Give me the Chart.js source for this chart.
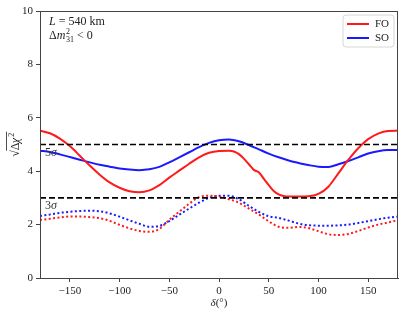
<!DOCTYPE html>
<html lang="en">
<head>
<meta charset="UTF-8">
<title>Sensitivity vs delta</title>
<script src="https://cdn.jsdelivr.net/npm/chart.js"></script>
<style>
  html, body { margin: 0; padding: 0; background: #fff; }
  .wrap { width: 409px; height: 315px; position: relative; }
</style>
</head>
<body>
<div class="wrap"><canvas id="chi"></canvas></div>
<script>
// delta grid (degrees) shared by the SO and dotted curves
const deltaGrid = [-180, -170, -160, -150, -140, -130, -120, -110, -100, -90, -80, -70, -60, -50, -40, -30, -20, -10,
  0, 10, 20, 30, 40, 50, 60, 70, 80, 90, 100, 110, 120, 130, 140, 150, 160, 170, 180];

const soSolid = [4.77, 4.72, 4.63, 4.53, 4.43, 4.33, 4.24, 4.17, 4.10, 4.06, 4.04, 4.07, 4.16, 4.33, 4.52, 4.71, 4.90, 5.06,
  5.16, 5.19, 5.12, 4.98, 4.82, 4.66, 4.52, 4.40, 4.31, 4.23, 4.17, 4.16, 4.26, 4.38, 4.52, 4.66, 4.75, 4.79, 4.79];

const foDotted = [2.17, 2.22, 2.27, 2.30, 2.30, 2.28, 2.24, 2.14, 1.99, 1.86, 1.76, 1.73, 1.84, 2.18, 2.48, 2.78, 3.03, 3.08,
  3.05, 2.95, 2.82, 2.60, 2.38, 2.12, 1.92, 1.88, 1.91, 1.87, 1.75, 1.64, 1.61, 1.65, 1.76, 1.89, 2.00, 2.08, 2.17];

const soDotted = [2.32, 2.38, 2.44, 2.48, 2.51, 2.52, 2.50, 2.42, 2.30, 2.16, 2.03, 1.92, 1.95, 2.13, 2.37, 2.60, 2.82, 3.00,
  3.08, 3.08, 2.95, 2.70, 2.48, 2.31, 2.25, 2.15, 2.04, 1.98, 1.96, 1.96, 1.97, 2.00, 2.06, 2.13, 2.20, 2.26, 2.30];

// FO solid has a kink near 40 deg, so it gets its own finer grid
const foDelta = [-180, -170, -160, -150, -140, -130, -120, -110, -100, -90, -80, -70, -60, -50, -40, -30, -20, -10,
  0, 10, 15, 20, 25, 30, 35, 40, 45, 50, 55, 60, 65, 70, 80, 90, 100, 110, 120, 130, 140, 150, 160, 170, 180];
const foSolid = [5.52, 5.42, 5.22, 4.94, 4.58, 4.21, 3.87, 3.58, 3.38, 3.25, 3.21, 3.28, 3.48, 3.76, 4.02, 4.28, 4.52, 4.69,
  4.76, 4.77, 4.74, 4.64, 4.47, 4.26, 4.05, 3.96, 3.72, 3.48, 3.26, 3.13, 3.07, 3.05, 3.05, 3.06, 3.15, 3.42, 3.92, 4.42,
  4.86, 5.20, 5.41, 5.51, 5.52];

const sigmaLevels = [3, 5];
const xRange = [-180, 180];
const xTicks = [-150, -100, -50, 0, 50, 100, 150];
const yTicks = [0, 2, 4, 6, 8, 10];

const RED = '#ff1a1a';
const BLUE = '#1a1aff';
const SERIF = '"Liberation Serif", "DejaVu Serif", serif';

function pts(xs, ys) {
  return xs.map((x, i) => ({ x: x, y: ys[i] }));
}

const datasets = [];
sigmaLevels.forEach(lvl => {
  datasets.push({
    data: xRange.map(x => ({ x: x, y: lvl })),
    borderColor: '#000', borderWidth: 1.6, borderDash: [6, 3], pointRadius: 0, tension: 0
  });
});
datasets.push({ label: 'FO', data: pts(foDelta, foSolid), borderColor: RED, borderWidth: 2 });
datasets.push({ label: 'SO', data: pts(deltaGrid, soSolid), borderColor: BLUE, borderWidth: 2 });
datasets.push({ data: pts(deltaGrid, foDotted), borderColor: RED, borderWidth: 2, borderDash: [2, 2.4] });
datasets.push({ data: pts(deltaGrid, soDotted), borderColor: BLUE, borderWidth: 2, borderDash: [2, 2.4] });

// texts, frame and legend drawn on top of the plot
const overlay = {
  id: 'overlay',
  afterDraw(chart) {
    const { ctx, chartArea: a, scales: { y } } = chart;
    ctx.save();
    ctx.strokeStyle = '#444';
    ctx.lineWidth = 1;
    ctx.strokeRect(a.left + 0.5, a.top + 0.5, a.right - a.left - 1, a.bottom - a.top);

    ctx.fillStyle = '#222';
    ctx.textBaseline = 'alphabetic';
    ctx.textAlign = 'left';

    // L = 540 km
    let x0 = a.left + 9;
    ctx.font = 'italic 12px ' + SERIF;
    ctx.fillText('L', x0, a.top + 14);
    x0 += ctx.measureText('L').width;
    ctx.font = '12px ' + SERIF;
    ctx.fillText(' = 540 km', x0, a.top + 14);

    // Δm²31 < 0
    x0 = a.left + 9;
    const yb = a.top + 28;
    ctx.font = '12px ' + SERIF;
    ctx.fillText('Δ', x0, yb);
    x0 += ctx.measureText('Δ').width;
    ctx.font = 'italic 12px ' + SERIF;
    ctx.fillText('m', x0, yb);
    x0 += ctx.measureText('m').width + 0.5;
    ctx.font = '8px ' + SERIF;
    ctx.fillText('2', x0, yb - 5);
    ctx.fillText('31', x0, yb + 3);
    x0 += ctx.measureText('31').width;
    ctx.font = '12px ' + SERIF;
    ctx.fillText(' < 0', x0, yb);

    // sigma labels
    ctx.fillStyle = '#333';
    sigmaLevels.forEach(lvl => {
      const py = y.getPixelForValue(lvl) + 11;
      ctx.font = '12px ' + SERIF;
      ctx.fillText(String(lvl), a.left + 5, py);
      const w = ctx.measureText(String(lvl)).width;
      ctx.font = 'italic 12px ' + SERIF;
      ctx.fillText('σ', a.left + 5 + w, py);
    });

    // legend box
    const lx = a.right - 55, ly = a.top + 4, lw = 51, lh = 32;
    ctx.beginPath();
    ctx.roundRect(lx, ly, lw, lh, 3);
    ctx.fillStyle = 'rgba(255,255,255,0.85)';
    ctx.fill();
    ctx.strokeStyle = '#d6d6d6';
    ctx.lineWidth = 1;
    ctx.stroke();
    [['FO', RED], ['SO', BLUE]].forEach((it, i) => {
      const cy = ly + 9 + i * 14;
      ctx.strokeStyle = it[1];
      ctx.lineWidth = 2;
      ctx.beginPath();
      ctx.moveTo(lx + 4, cy);
      ctx.lineTo(lx + 26, cy);
      ctx.stroke();
      ctx.fillStyle = '#222';
      ctx.font = '11px ' + SERIF;
      ctx.textBaseline = 'middle';
      ctx.fillText(it[0], lx + 32, cy + 0.5);
    });

    // y axis title: sqrt(Δχ²)
    ctx.save();
    ctx.translate(15, (a.top + a.bottom) / 2);
    ctx.rotate(-Math.PI / 2);
    ctx.textBaseline = 'alphabetic';
    ctx.fillStyle = '#222';
    ctx.font = '12px ' + SERIF;
    const wRad = ctx.measureText('√').width;
    const wBody = ctx.measureText('Δχ').width;
    ctx.font = '8px ' + SERIF;
    const wSup = ctx.measureText('2').width;
    const total = wRad + wBody + wSup + 1;
    let tx = -total / 2;
    ctx.font = '12px ' + SERIF;
    ctx.fillText('√', tx, 4);
    tx += wRad;
    ctx.fillText('Δ', tx, 4);
    ctx.font = 'italic 12px ' + SERIF;
    ctx.fillText('χ', tx + ctx.measureText('Δ').width, 4);
    ctx.font = '8px ' + SERIF;
    ctx.fillText('2', tx + wBody + 0.5, -1);
    ctx.strokeStyle = '#222';
    ctx.lineWidth = 0.8;
    ctx.beginPath();
    ctx.moveTo(tx - 0.5, -8.5);
    ctx.lineTo(tx + wBody + wSup + 1.5, -8.5);
    ctx.stroke();
    ctx.restore();

    // x axis title
    ctx.textBaseline = 'alphabetic';
    ctx.fillStyle = '#222';
    ctx.font = 'italic 11px ' + SERIF;
    const cx = (a.left + a.right) / 2;
    const wd = ctx.measureText('δ').width;
    ctx.font = '11px ' + SERIF;
    const wr = ctx.measureText('(°)').width;
    let sx = cx - (wd + wr) / 2;
    ctx.font = 'italic 11px ' + SERIF;
    ctx.fillText('δ', sx, 306);
    ctx.font = '11px ' + SERIF;
    ctx.fillText('(°)', sx + wd, 306);

    ctx.restore();
  }
};

new Chart(document.getElementById('chi'), {
  type: 'line',
  data: { datasets: datasets },
  options: {
    responsive: true,
    maintainAspectRatio: false,
    animation: false,
    layout: { padding: { top: 11, right: 11, left: 0, bottom: 0 } },
    elements: {
      point: { radius: 0 },
      line: { tension: 0.4, cubicInterpolationMode: 'monotone', borderCapStyle: 'butt' }
    },
    plugins: { legend: { display: false }, tooltip: { enabled: false } },
    scales: {
      x: {
        type: 'linear',
        min: xRange[0],
        max: xRange[1],
        afterBuildTicks: s => { s.ticks = xTicks.map(v => ({ value: v })); },
        afterFit: s => { s.height = 37; },
        grid: { drawOnChartArea: false, tickLength: 4, color: '#444' },
        border: { color: '#444' },
        ticks: {
          color: '#222', padding: 3, maxRotation: 0,
          font: { family: SERIF, size: 11 },
          callback: v => String(v).replace('-', '\u2212')
        }
      },
      y: {
        min: 0,
        max: 10,
        afterBuildTicks: s => { s.ticks = yTicks.map(v => ({ value: v })); },
        afterFit: s => { s.width = 40; },
        grid: { drawOnChartArea: false, tickLength: 4, color: '#444' },
        border: { color: '#444' },
        ticks: {
          color: '#222', padding: 3,
          font: { family: SERIF, size: 11 }
        }
      }
    }
  },
  plugins: [overlay]
});
</script>
</body>
</html>
